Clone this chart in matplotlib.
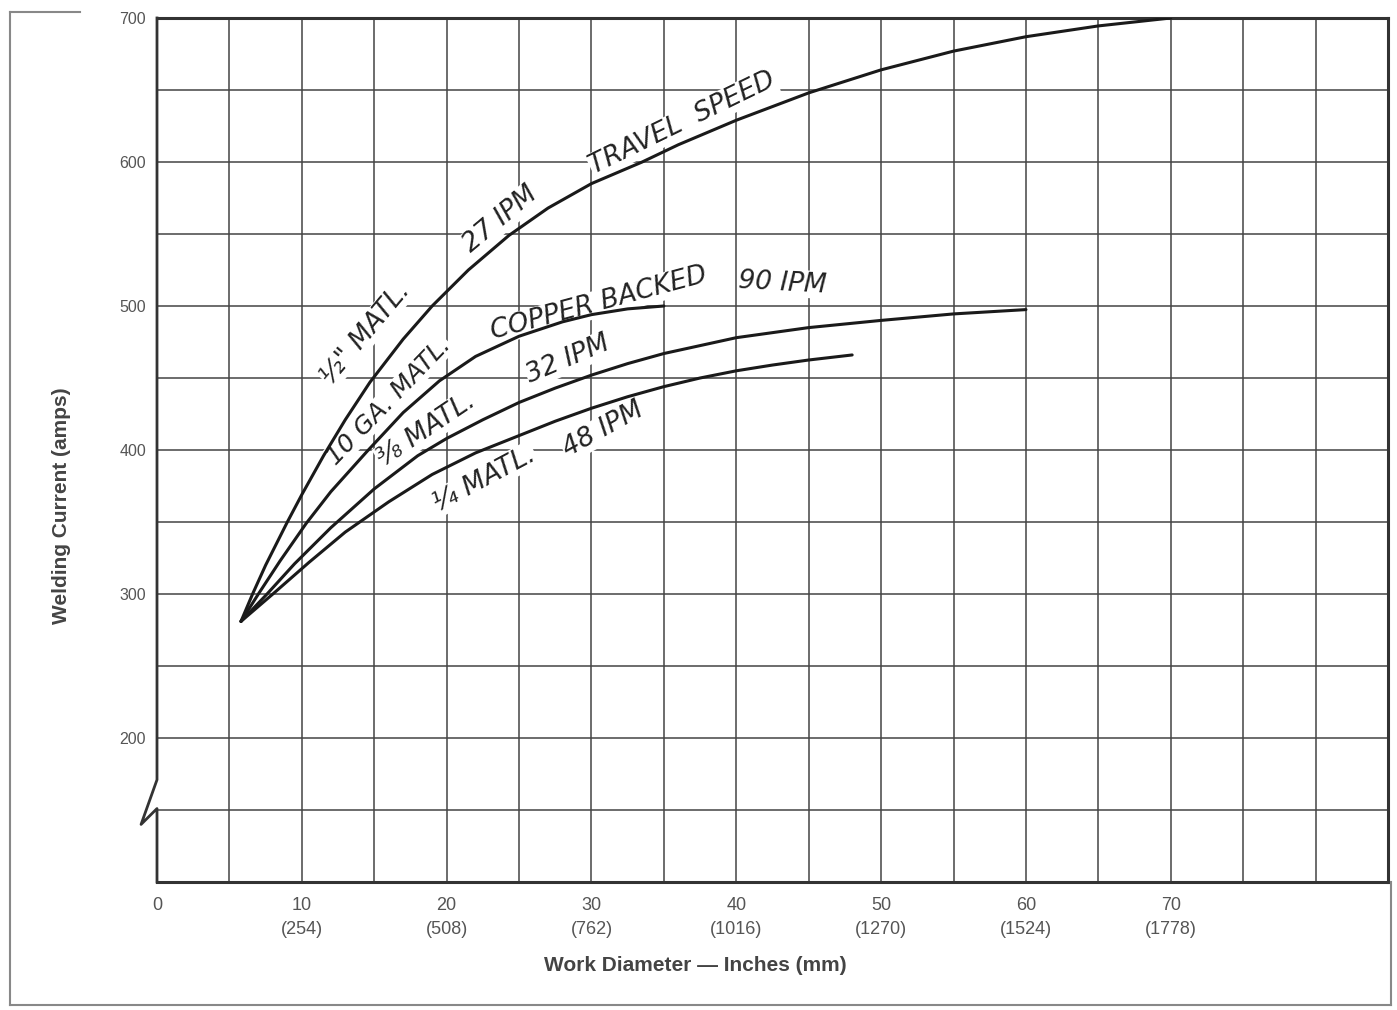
import matplotlib
matplotlib.use("Agg")
import matplotlib.pyplot as plt
from matplotlib.lines import Line2D

# Work diameter (inches) and welding current (amps)
half_x = [5.8, 6.6, 7.5, 9, 10, 11.5, 13, 14.7, 17, 19, 21.5, 24.3, 27, 30, 33.5,
          36, 40, 45, 50, 55, 60, 65, 70]
half_y = [281, 300, 320, 350, 369, 396, 421, 447, 477, 500, 525, 549, 568, 585, 600,
          612, 629, 648, 664, 677, 687, 694.5, 700]

ga10_x = [5.8, 7.0, 8.5, 10.3, 12, 14.5, 17, 19.5, 22, 25, 28, 30, 32.5, 35]
ga10_y = [281, 300, 323, 349, 371, 399, 426, 448, 465, 479, 489, 494, 498, 500]

three8_x = [5.8, 7.6, 9.5, 12, 15, 18, 20, 22.5, 25, 27.5, 30, 32.5, 35, 40, 45, 50, 55, 60]
three8_y = [281, 300, 321, 346, 373, 396, 408, 421, 433, 443, 452, 460, 467, 478, 485, 490,
            494.5, 497.5]

quarter_x = [5.8, 8.0, 10.5, 13, 16, 19, 22, 25, 27.5, 30, 32.5, 35, 37.5, 40, 42.5, 45, 48]
quarter_y = [281, 300, 322, 343, 364, 383, 398, 410, 420, 429, 437, 444, 450, 455, 459,
             462.5, 466]

x_ticks = [0, 10, 20, 30, 40, 50, 60, 70]
x_labels = ["0", "10\n(254)", "20\n(508)", "30\n(762)", "40\n(1016)",
            "50\n(1270)", "60\n(1524)", "70\n(1778)"]
y_ticks = [200, 300, 400, 500, 600, 700]

# curve labels: text, x, y, rotation, size
notes = [
    ('½" MATL.', 14.4, 481, 50, 19),
    ("27 IPM", 23.7, 560, 40, 19),
    ("TRAVEL  SPEED", 36.3, 627, 26, 19),
    ("10 GA. MATL.", 16.0, 434, 46, 18),
    ("COPPER BACKED", 30.5, 501.5, 15, 19),
    ("90 IPM", 43.2, 516, -3, 19),
    ("⅜ MATL.", 18.6, 414, 34, 19),
    ("32 IPM", 28.4, 463, 23, 19),
    ("¼ MATL.", 22.6, 380, 28, 19),
    ("48 IPM", 30.8, 414, 29, 19),
]

fig = plt.figure(figsize=(13.97, 10.10), dpi=100)
ax = fig.add_axes([157 / 1397, 128 / 1010, 1231 / 1397, 864 / 1010])
ax.set_xlim(0, 85)
ax.set_ylim(100, 700)

grid_col = "#444444"
for gx in range(5, 85, 5):
    ax.axvline(gx, color=grid_col, lw=1.1, zorder=1)
for gy in range(150, 700, 50):
    ax.axhline(gy, color=grid_col, lw=1.1, zorder=1)

for xs, ys in [(half_x, half_y), (ga10_x, ga10_y), (three8_x, three8_y), (quarter_x, quarter_y)]:
    ax.plot(xs, ys, color="#1a1a1a", lw=2.2, solid_capstyle="round",
            solid_joinstyle="round", zorder=3)

# text sits over the grid but under the curves
for txt, tx, ty, rot, size in notes:
    ax.text(tx, ty, txt, rotation=rot, rotation_mode="anchor", ha="center", va="center",
            fontsize=size, fontstyle="oblique", color="#222222", zorder=2,
            bbox=dict(facecolor="white", edgecolor="none", pad=0.5))

for side in ["top", "right", "bottom"]:
    ax.spines[side].set_linewidth(2.2)
    ax.spines[side].set_color("#333333")
ax.spines["left"].set_visible(False)

# left axis with a break mark
brk_x = [0, 0, -1.1, 0, 0]
brk_y = [700, 171, 140, 151, 100]
ax.plot(brk_x, brk_y, color="#333333", lw=2.0, clip_on=False, zorder=5)

ax.set_xticks(x_ticks)
ax.set_xticklabels(x_labels)
ax.set_yticks(y_ticks)
ax.tick_params(length=0, labelcolor="#555555")
ax.tick_params(axis="x", labelsize=13, pad=11)
ax.tick_params(axis="y", labelsize=11.5, pad=8)
for lab in ax.get_xticklabels() + ax.get_yticklabels():
    lab.set_family("Liberation Sans")
    lab.set_linespacing(1.5)

ax.set_xlabel("Work Diameter — Inches (mm)", fontsize=15, fontweight="bold",
              color="#444444", family="Liberation Sans")
ax.xaxis.set_label_coords(37.2 / 85, -0.086)
ax.set_ylabel("Welding Current (amps)", fontsize=15, fontweight="bold",
              color="#444444", family="Liberation Sans")
ax.yaxis.set_label_coords(-0.07, 0.436)

# page frame around the figure
frame = dict(color="#888888", lw=1.5, transform=fig.transFigure)
fig.add_artist(Line2D([10 / 1397, 10 / 1397], [1 - 12 / 1010, 1 - 1005 / 1010], **frame))
fig.add_artist(Line2D([10 / 1397, 80 / 1397], [1 - 12 / 1010, 1 - 12 / 1010], **frame))
fig.add_artist(Line2D([10 / 1397, 1391 / 1397], [1 - 1005 / 1010, 1 - 1005 / 1010], **frame))
fig.add_artist(Line2D([1391 / 1397, 1391 / 1397], [1 - 882 / 1010, 1 - 1005 / 1010], **frame))

fig.savefig("out.png", dpi=100, facecolor="white")
